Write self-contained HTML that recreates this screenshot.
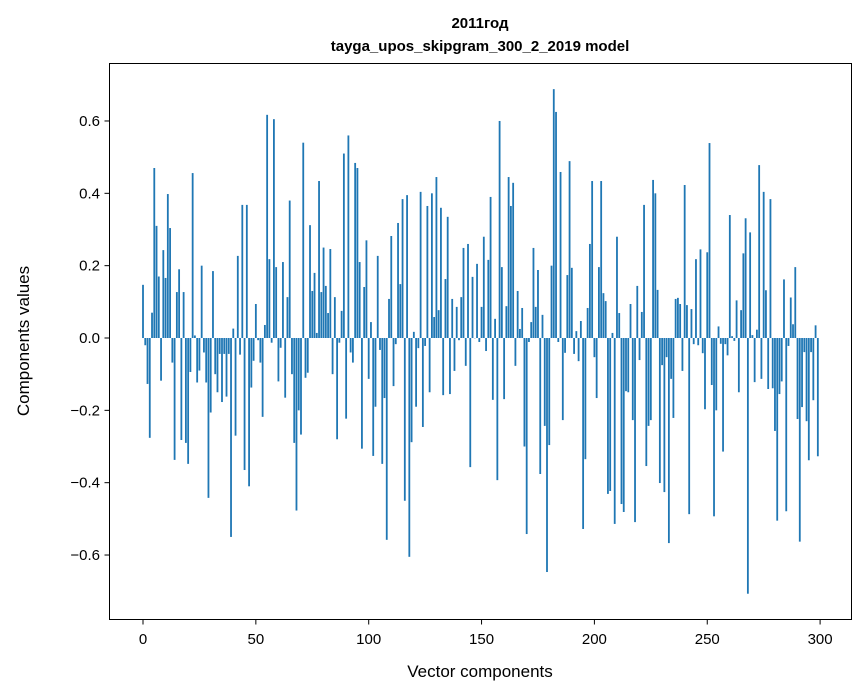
<!DOCTYPE html>
<html><head><meta charset="utf-8"><style>
body{margin:0;background:#fff;}
svg{display:block;font-family:"Liberation Sans","DejaVu Sans",sans-serif;}
</style></head><body>
<svg id="chart" width="867" height="696">
<text x="480" y="28" text-anchor="middle" font-size="15" font-weight="bold">2011год</text>
<text x="480" y="51" text-anchor="middle" font-size="15" font-weight="bold">tayga_upos_skipgram_300_2_2019 model</text>
<g id="bars"></g>
<g id="xaxis"></g>
<g id="yaxis"></g>
<rect x="109.5" y="63.5" width="742" height="556" fill="none" stroke="#000" stroke-width="1"/>
<text x="480" y="677" text-anchor="middle" font-size="17">Vector components</text>
<text transform="translate(29,341) rotate(-90)" text-anchor="middle" font-size="17">Components values</text>
</svg>
<script>
const values = [0.147,-0.02,-0.127,-0.276,0.07,0.47,0.31,0.17,-0.118,0.243,
0.166,0.398,0.304,-0.068,-0.337,0.127,0.19,-0.282,0.127,-0.29,
-0.348,-0.094,0.456,0.007,-0.123,-0.09,0.2,-0.04,-0.123,-0.442,
-0.206,0.185,-0.1,-0.15,-0.044,-0.177,-0.044,-0.162,-0.044,-0.55,
0.026,-0.27,0.227,-0.046,0.368,-0.365,0.368,-0.41,-0.137,-0.063,
0.094,-0.006,-0.068,-0.218,0.036,0.617,0.218,-0.013,0.605,0.196,
-0.12,-0.027,0.21,-0.165,0.113,0.38,-0.1,-0.29,-0.477,-0.2,
-0.267,0.54,-0.11,-0.096,0.312,0.13,0.18,0.014,0.434,0.127,
0.25,0.144,0.069,0.246,-0.1,0.113,-0.28,-0.013,0.075,0.51,
-0.223,0.56,-0.04,-0.068,0.484,0.47,0.21,-0.306,0.141,0.27,
-0.113,0.044,-0.326,-0.19,0.227,-0.033,-0.348,-0.166,-0.558,0.108,
0.282,-0.133,-0.017,0.318,0.149,0.384,-0.45,0.395,-0.605,-0.288,
0.017,-0.19,-0.028,0.404,-0.246,-0.022,0.365,-0.15,0.4,0.058,
0.445,0.077,0.36,-0.158,0.163,0.335,-0.155,0.108,-0.091,0.086,
-0.006,0.113,0.249,-0.077,0.26,-0.357,0.169,0.0,0.205,-0.011,
0.086,0.28,-0.036,0.216,0.39,-0.171,0.053,-0.393,0.6,0.196,
-0.169,0.088,0.445,0.365,0.429,-0.077,0.13,0.025,0.083,-0.3,
-0.542,-0.011,0.044,0.249,0.086,0.188,-0.376,0.064,-0.243,-0.647,
-0.296,0.2,0.688,0.625,-0.011,0.459,-0.227,-0.041,0.174,0.489,
0.194,-0.044,0.019,-0.064,0.047,-0.528,-0.335,0.083,0.26,0.434,
-0.053,-0.166,0.196,0.434,0.124,0.102,-0.431,-0.423,0.014,-0.514,
0.28,0.069,-0.459,-0.481,-0.147,-0.15,0.094,-0.227,-0.509,0.144,
-0.061,0.072,0.368,-0.354,-0.243,-0.227,0.437,0.4,0.133,-0.401,
-0.075,-0.426,-0.053,-0.567,-0.113,-0.221,0.108,0.111,0.094,-0.091,
0.423,0.091,-0.487,0.08,-0.017,0.218,-0.02,0.245,-0.042,-0.197,
0.237,0.539,-0.13,-0.493,-0.2,0.032,-0.016,-0.314,-0.017,-0.048,
0.34,0.005,-0.008,0.104,-0.15,0.077,0.234,0.331,-0.707,0.292,
0.008,-0.122,0.023,0.478,-0.113,0.404,0.132,-0.141,0.384,-0.139,
-0.257,-0.505,-0.155,-0.12,0.162,-0.479,-0.022,0.112,0.038,0.196,
-0.224,-0.563,-0.191,-0.039,-0.23,-0.338,-0.039,-0.172,0.035,-0.327];
const xTicks = [0,50,100,150,200,250,300];
const yTicks = [-0.6,-0.4,-0.2,0.0,0.2,0.4,0.6];
const yTickLabels = ["\u22120.6","\u22120.4","\u22120.2","0.0","0.2","0.4","0.6"];

const NS="http://www.w3.org/2000/svg";
const xScale = v => 143 + v*2.257;
const yScale = v => 338 - v*361.7;
const barsG=document.getElementById('bars');
values.forEach((v,i)=>{
  const r=document.createElementNS(NS,'rect');
  const y0=yScale(0), y1=yScale(v);
  r.setAttribute('x',xScale(i-0.4));
  r.setAttribute('width',2.257*0.8);
  r.setAttribute('y',Math.min(y0,y1));
  r.setAttribute('height',Math.max(Math.abs(y1-y0),0.3));
  r.setAttribute('fill','#1f77b4');
  
  
  barsG.appendChild(r);
});
const xg=document.getElementById('xaxis');
xTicks.forEach(t=>{
  const x=xScale(t);
  const l=document.createElementNS(NS,'line');
  l.setAttribute('x1',x);l.setAttribute('x2',x);l.setAttribute('y1',619.5);l.setAttribute('y2',624.5);
  l.setAttribute('stroke','#000');
  
  
  xg.appendChild(l);
  const tx=document.createElementNS(NS,'text');
  tx.setAttribute('x',x);tx.setAttribute('y',644);tx.setAttribute('text-anchor','middle');tx.setAttribute('font-size','15');
  tx.textContent=String(t);
  
  
  xg.appendChild(tx);
});
const yg=document.getElementById('yaxis');
yTicks.forEach((t,i)=>{
  const y=yScale(t);
  const l=document.createElementNS(NS,'line');
  l.setAttribute('x1',104.5);l.setAttribute('x2',109.5);l.setAttribute('y1',y);l.setAttribute('y2',y);
  l.setAttribute('stroke','#000');
  
  
  yg.appendChild(l);
  const tx=document.createElementNS(NS,'text');
  tx.setAttribute('x',100);tx.setAttribute('y',y+5);tx.setAttribute('text-anchor','end');tx.setAttribute('font-size','15');
  tx.textContent=yTickLabels[i];
  
  
  yg.appendChild(tx);
});
</script>
</body></html>
